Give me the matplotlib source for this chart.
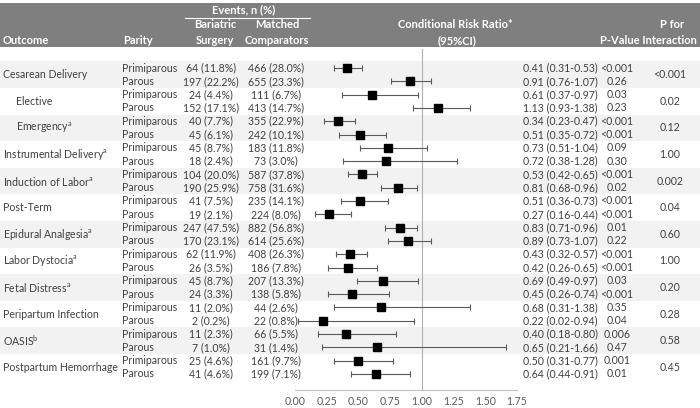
import matplotlib.pyplot as plt
import numpy as np

plt.rcParams["font.family"] = ["Lato", "DejaVu Sans"]
plt.rcParams["mathtext.fontset"] = "custom"
plt.rcParams["mathtext.rm"] = "Lato"
plt.rcParams["mathtext.it"] = "Lato:italic"
plt.rcParams["mathtext.bf"] = "Lato:bold"

# ---- data ----
outcomes = ["Cesarean Delivery", "Elective", "Emergency", "Instrumental Delivery",
            "Induction of Labor", "Post-Term", "Epidural Analgesia", "Labor Dystocia",
            "Fetal Distress", "Peripartum Infection", "OASIS", "Postpartum Hemorrhage"]
footnotes = ["", "", "a", "a", "a", "", "a", "a", "a", "", "b", ""]
indented = [False, True, True, False, False, False, False, False, False, False, False, False]
parity = ["Primiparous", "Parous"]

bariatric = ["64 (11.8%)", "197 (22.2%)", "24 (4.4%)", "152 (17.1%)", "40 (7.7%)",
             "45 (6.1%)", "45 (8.7%)", "18 (2.4%)", "104 (20.0%)", "190 (25.9%)",
             "41 (7.5%)", "19 (2.1%)", "247 (47.5%)", "170 (23.1%)", "62 (11.9%)",
             "26 (3.5%)", "45 (8.7%)", "24 (3.3%)", "11 (2.0%)", "2 (0.2%)",
             "11 (2.3%)", "7 (1.0%)", "25 (4.6%)", "41 (4.6%)"]
matched = ["466 (28.0%)", "655 (23.3%)", "111 (6.7%)", "413 (14.7%)", "355 (22.9%)",
           "242 (10.1%)", "183 (11.8%)", "73 (3.0%)", "587 (37.8%)", "758 (31.6%)",
           "235 (14.1%)", "224 (8.0%)", "882 (56.8%)", "614 (25.6%)", "408 (26.3%)",
           "186 (7.8%)", "207 (13.3%)", "138 (5.8%)", "44 (2.6%)", "22 (0.8%)",
           "66 (5.5%)", "31 (1.4%)", "161 (9.7%)", "199 (7.1%)"]

rr = np.array([0.41, 0.91, 0.61, 1.13, 0.34, 0.51, 0.73, 0.72, 0.53, 0.81, 0.51, 0.27,
               0.83, 0.89, 0.43, 0.42, 0.69, 0.45, 0.68, 0.22, 0.40, 0.65, 0.50, 0.64])
lo = np.array([0.31, 0.76, 0.37, 0.93, 0.23, 0.35, 0.51, 0.38, 0.42, 0.68, 0.36, 0.16,
               0.71, 0.73, 0.32, 0.26, 0.49, 0.26, 0.31, 0.02, 0.18, 0.21, 0.31, 0.44])
hi = np.array([0.53, 1.07, 0.97, 1.38, 0.47, 0.72, 1.04, 1.28, 0.65, 0.96, 0.73, 0.44,
               0.96, 1.07, 0.57, 0.65, 0.97, 0.74, 1.38, 0.94, 0.80, 1.66, 0.77, 0.91])
pvals = ["<0.001", "0.26", "0.03", "0.23", "<0.001", "<0.001", "0.09", "0.30",
         "<0.001", "0.02", "<0.001", "<0.001", "0.01", "0.22", "<0.001", "<0.001",
         "0.03", "<0.001", "0.35", "0.04", "0.006", "0.47", "0.001", "0.01"]
p_interaction = ["<0.001", "0.02", "0.12", "1.00", "0.002", "0.04", "0.60", "1.00",
                 "0.20", "0.28", "0.58", "0.45"]

# ---- layout (pixels) ----
W, H = 700, 408
ROW0, ROW_H = 68, 13.3
TXT = "#404040"
FS = 7.6


def row_y(i):
    return ROW0 + ROW_H * i


fig = plt.figure(figsize=(7, 4.08), dpi=100)
bg = fig.add_axes([0, 0, 1, 1])
bg.set_xlim(0, W)
bg.set_ylim(H, 0)
bg.axis("off")

# header band
bg.axhspan(3, 47, color="#7f7f7f", lw=0)
hdr = dict(color="white", fontweight="bold", fontsize=8)
bg.text(3, 41, "Outcome", ha="left", va="center", **hdr)
bg.text(123, 41, "Parity", ha="left", va="center", **hdr)
bg.text(244, 10, "Events, n (%)", ha="center", va="center", **hdr)
bg.plot([185, 310], [18, 18], color="white", lw=0.8)
bg.text(215, 25, "Bariatric", ha="center", va="center", **hdr)
bg.text(215, 41, "Surgery", ha="center", va="center", **hdr)
bg.text(277, 25, "Matched", ha="center", va="center", **hdr)
bg.text(277, 41, "Comparators", ha="center", va="center", **hdr)
bg.text(455, 25, "Conditional Risk Ratio*", ha="center", va="center", **hdr)
bg.text(457, 41, "(95%CI)", ha="center", va="center", **hdr)
bg.text(672, 25, "P for", ha="center", va="center", **hdr)
bg.text(697, 41, "P-Value Interaction", ha="right", va="center", **hdr)

# shaded groups
for g in range(0, len(outcomes), 2):
    bg.axhspan(row_y(2 * g) - ROW_H / 2, row_y(2 * g + 1) + ROW_H / 2,
               color="#f2f2f2", lw=0)

# table text
for g, name in enumerate(outcomes):
    yc = (row_y(2 * g) + row_y(2 * g + 1)) / 2
    label = name + (r"$^{\mathrm{%s}}$" % footnotes[g] if footnotes[g] else "")
    bg.text(16 if indented[g] else 3, yc, label, ha="left", va="center",
            color=TXT, fontsize=FS)
    bg.text(670, yc, p_interaction[g], ha="center", va="center", color=TXT, fontsize=FS)

for i in range(len(rr)):
    y = row_y(i)
    bg.text(122, y, parity[i % 2], ha="left", va="center", color=TXT, fontsize=FS)
    bg.text(211, y, bariatric[i], ha="center", va="center", color=TXT, fontsize=FS)
    bg.text(276, y, matched[i], ha="center", va="center", color=TXT, fontsize=FS)
    bg.text(523, y, f"{rr[i]:.2f} ({lo[i]:.2f}-{hi[i]:.2f})", ha="left", va="center",
            color=TXT, fontsize=FS)
    bg.text(617, y, pvals[i], ha="center", va="center", color=TXT, fontsize=FS)

# ---- forest plot ----
x0, x1, ytop, ybot = 295, 517, 49, 390
fa = fig.add_axes([x0 / W, 1 - ybot / H, (x1 - x0) / W, (ybot - ytop) / H])
fa.patch.set_alpha(0)
fa.set_xlim(0, 1.75)
fa.set_ylim((ybot - ROW0) / ROW_H, (ytop - ROW0) / ROW_H)
rows = np.arange(len(rr))
fa.axvline(1.0, color="#b0b0b0", lw=0.8, zorder=1)
fa.errorbar(rr, rows, xerr=[rr - lo, hi - rr], fmt="s", color="black",
            ecolor="#595959", elinewidth=0.8, capsize=2.2, capthick=0.8,
            markersize=5.5, zorder=3)
ticks = np.arange(0, 1.76, 0.25)
fa.set_xticks(ticks)
fa.set_xticklabels([f"{v:.2f}" for v in ticks])
fa.set_yticks([])
for s in ["top", "left", "right"]:
    fa.spines[s].set_visible(False)
fa.spines["bottom"].set_color("#bfbfbf")
fa.tick_params(axis="x", length=0, pad=4, labelsize=FS, labelcolor="#595959")

fig.savefig("out.png", dpi=100)
